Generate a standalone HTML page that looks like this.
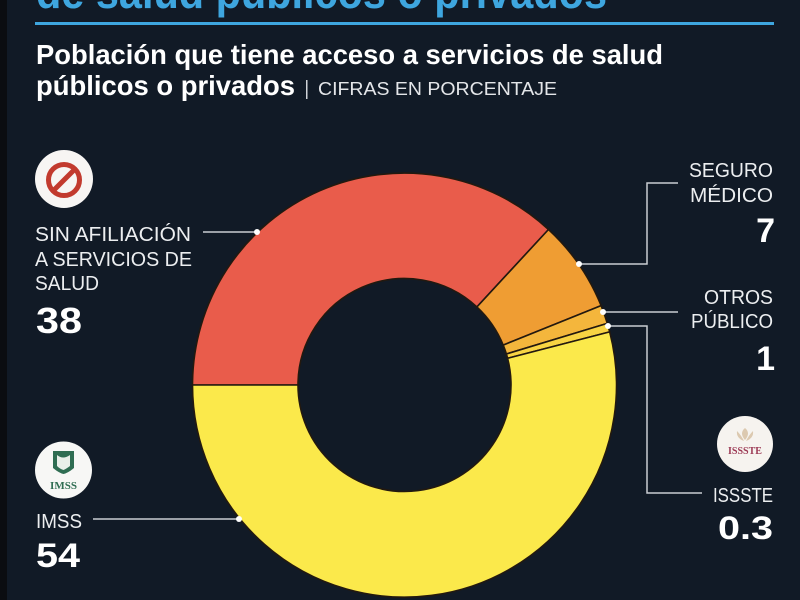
<!DOCTYPE html>
<html>
<head>
<meta charset="utf-8">
<style>
  html, body { margin:0; padding:0; background:#111a26; }
  body { width:800px; height:600px; overflow:hidden; position:relative; }
  svg { display:block; }
  text { font-family: "Liberation Sans", "DejaVu Sans", sans-serif; }
</style>
</head>
<body>
<svg width="800" height="600" viewBox="0 0 800 600" xmlns="http://www.w3.org/2000/svg">
  <rect x="0" y="0" width="800" height="600" fill="#111a26"/>
  <rect x="0" y="0" width="7" height="600" fill="#0b0d11"/>

  <!-- Cut-off title -->
  <text x="36" y="8" font-size="46" font-weight="bold" fill="#3ea6df" textLength="571" lengthAdjust="spacingAndGlyphs">de salud públicos o privados</text>
  <rect x="35" y="22" width="739" height="3" fill="#3ea6df"/>

  <!-- Subtitle -->
  <text x="36" y="64" font-size="28" font-weight="bold" fill="#ffffff" textLength="627" lengthAdjust="spacingAndGlyphs">Población que tiene acceso a servicios de salud</text>
  <text x="36" y="95" font-size="28" font-weight="bold" fill="#ffffff" textLength="259" lengthAdjust="spacingAndGlyphs">públicos o privados</text>
  <rect x="306" y="80" width="1.5" height="19" fill="#cfd3d8"/>
  <text x="318" y="95" font-size="18" fill="#e4e6e9" textLength="239" lengthAdjust="spacingAndGlyphs">CIFRAS EN PORCENTAJE</text>

  <!-- Donut -->
  <g stroke="#23190f" stroke-width="1.6" stroke-linejoin="round">
    <path d="M192.5,385 A212,212 0 0 1 548.5,229.5 L476.9,306.9 A106.5,106.5 0 0 0 298,385 Z" fill="#e95c4b"/>
    <path d="M548.5,229.5 A212,212 0 0 1 601.1,305.6 L503.2,345.1 A106.5,106.5 0 0 0 476.9,306.9 Z" fill="#ef9d33"/>
    <path d="M601.1,305.6 A212,212 0 0 1 607.3,323.4 L506.4,354.0 A106.5,106.5 0 0 0 503.2,345.1 Z" fill="#f4b63c"/>
    <path d="M607.3,323.4 A212,212 0 0 1 609.7,331.9 L507.6,358.3 A106.5,106.5 0 0 0 506.4,354.0 Z" fill="#f8d443"/>
    <path d="M609.7,331.9 A212,212 0 1 1 192.5,385 L298,385 A106.5,106.5 0 1 0 507.6,358.3 Z" fill="#fbe94b"/>
  </g>

  <!-- Leader lines -->
  <g stroke="#c9cdd2" stroke-width="1.5" fill="none">
    <path d="M203,232 H257"/>
    <path d="M93,519 H239"/>
    <path d="M678,183 H647 V264 H579"/>
    <path d="M603,312 H678"/>
    <path d="M608,326 H647 V493 H702"/>
  </g>
  <g fill="#ffffff">
    <circle cx="257" cy="232" r="3"/>
    <circle cx="239" cy="519" r="3"/>
    <circle cx="579" cy="264" r="3"/>
    <circle cx="603" cy="312" r="3"/>
    <circle cx="608" cy="326" r="3"/>
  </g>

  <!-- No-symbol icon -->
  <circle cx="64" cy="179" r="29" fill="#f7f5f3"/>
  <circle cx="64" cy="180" r="15.5" fill="none" stroke="#c23a2e" stroke-width="5"/>
  <line x1="74.5" y1="169.5" x2="53.5" y2="190.5" stroke="#c23a2e" stroke-width="5"/>

  <!-- Left labels -->
  <g font-size="20" fill="#eceef0">
    <text x="35" y="241" textLength="156" lengthAdjust="spacingAndGlyphs">SIN AFILIACIÓN</text>
    <text x="35" y="266" textLength="157" lengthAdjust="spacingAndGlyphs">A SERVICIOS DE</text>
    <text x="35" y="290" textLength="64" lengthAdjust="spacingAndGlyphs">SALUD</text>
  </g>
  <text x="36" y="333" font-size="36" font-weight="bold" fill="#ffffff" textLength="46" lengthAdjust="spacingAndGlyphs">38</text>

  <!-- IMSS icon -->
  <circle cx="63.5" cy="470" r="28.5" fill="#f7f7f5"/>
  <path d="M53,451 L74,451 L74,468 Q68,473 63.5,474 Q59,473 53,468 Z" fill="#2f6d52"/>
  <path d="M57,455 Q63,460 70,455 L70,466 Q66,469 63.5,470 Q60,469 57,466 Z" fill="#e9efe9"/>
  <text x="63.5" y="489" font-size="11" font-weight="bold" fill="#2f6d52" text-anchor="middle" font-family="Liberation Serif, serif" style="font-family:'Liberation Serif',serif">IMSS</text>

  <text x="36" y="528" font-size="20" fill="#eceef0" textLength="46" lengthAdjust="spacingAndGlyphs">IMSS</text>
  <text x="36" y="567" font-size="34" font-weight="bold" fill="#ffffff" textLength="44" lengthAdjust="spacingAndGlyphs">54</text>

  <!-- Right labels -->
  <g font-size="20" fill="#eceef0">
    <text x="689" y="177" textLength="84" lengthAdjust="spacingAndGlyphs">SEGURO</text>
    <text x="690" y="202" textLength="83" lengthAdjust="spacingAndGlyphs">MÉDICO</text>
    <text x="704" y="304" textLength="69" lengthAdjust="spacingAndGlyphs">OTROS</text>
    <text x="691" y="328" textLength="82" lengthAdjust="spacingAndGlyphs">PÚBLICO</text>
    <text x="713" y="502" textLength="60" lengthAdjust="spacingAndGlyphs">ISSSTE</text>
  </g>
  <text x="775" y="242" font-size="34" font-weight="bold" fill="#ffffff" text-anchor="end">7</text>
  <text x="775" y="370" font-size="34" font-weight="bold" fill="#ffffff" text-anchor="end">1</text>
  <text x="718" y="539" font-size="32" font-weight="bold" fill="#ffffff" textLength="55" lengthAdjust="spacingAndGlyphs">0.3</text>

  <!-- ISSSTE icon -->
  <circle cx="745" cy="444" r="28" fill="#f6f3ef"/>
  <path d="M745,428 Q739,433 745,440 Q751,433 745,428 Z M737,431 Q736,438 744,441 Q741,435 737,431 Z M753,431 Q754,438 746,441 Q749,435 753,431 Z" fill="#dcc9b0"/>
  <text x="745" y="454" font-size="10" font-weight="bold" fill="#9c3a55" text-anchor="middle" style="font-family:'Liberation Serif',serif">ISSSTE</text>
</svg>
</body>
</html>
